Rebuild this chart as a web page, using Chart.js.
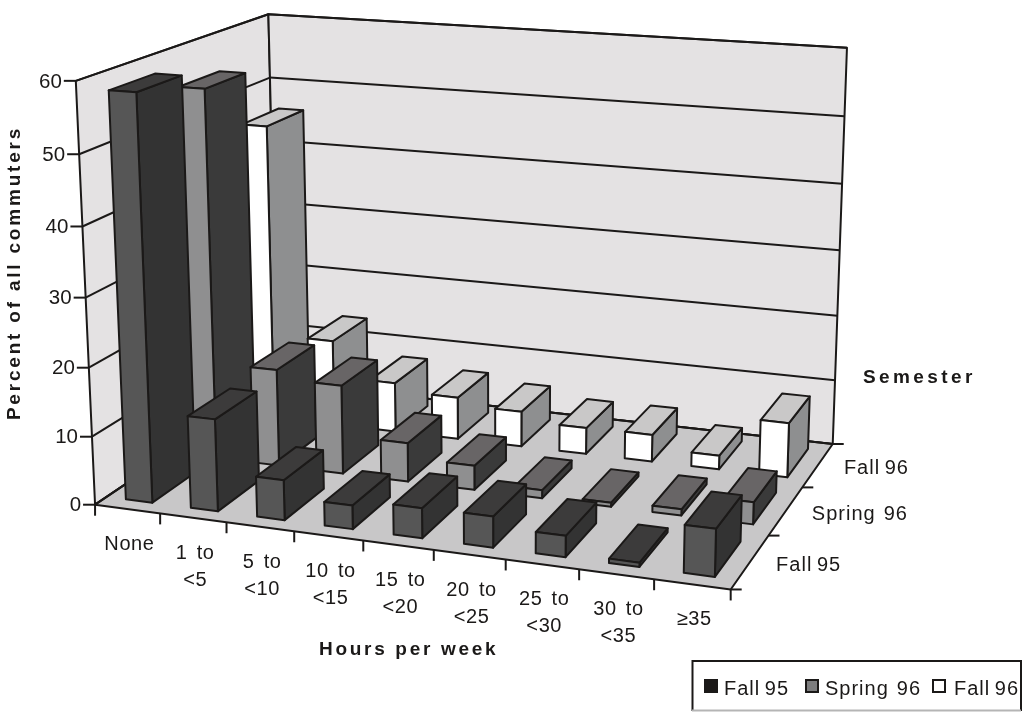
<!DOCTYPE html>
<html>
<head>
<meta charset="utf-8">
<title>Hours per week by semester</title>
<style>
  html, body { margin: 0; padding: 0; background: #fff; }
  #wrap { position: relative; width: 1028px; height: 712px; }
</style>
<script src="https://cdn.jsdelivr.net/npm/chart.js@4/dist/chart.umd.js"></script>
</head>
<body>
<div id="wrap"><canvas id="chart" width="1028" height="712"></canvas></div>
<script>
// Survey values, in percent of all commuters
const hourLabels = ['None', ['1 to', '<5'], ['5 to', '<10'], ['10 to', '<15'], ['15 to', '<20'],
                    ['20 to', '<25'], ['25 to', '<30'], ['30 to', '<35'], '≥35'];
const fall95   = [58.3, 13.4, 5.8, 3.4, 4.3, 4.4, 3, 0.6, 6.6];
const spring96 = [55.2, 14.6, 13.3, 5.8, 3.6, 1.2, 0.6, 0.9, 3.2];
const fall96   = [45.9, 13.3, 7.7, 6.5, 5.4, 4, 4.1, 2.1, 8.2];
const semesters = ['Fall 95', 'Spring 96', 'Fall 96'];

// Face colours per series, drawn front / side / top
const palette = [
  { front: '#565656', side: '#333333', top: '#3c3b3b' },
  { front: '#8f8f90', side: '#3a3a3a', top: '#686566' },
  { front: '#ffffff', side: '#8e8f90', top: '#c9c8c8' }
];
const INK = '#1b1918';
const WALL = '#e4e2e3';
const FLOOR = '#c8c7c8';
const FONT = '"Liberation Sans", Arial, sans-serif';

// Camera anchors: [category, percent, semester, screen x, screen y] of the frame of the box
const cameraAnchors = [
  [0, 0, 0, 95, 505], [1, 0, 0, 160, 514], [4, 0, 0, 363, 540], [8, 0, 0, 654, 579], [9, 0, 0, 731, 589],
  [9, 0, 1, 769, 535], [9, 0, 2, 802, 488], [9, 0, 3, 832, 445],
  [0, 10, 0, 90, 437], [0, 20, 0, 88, 368], [0, 30, 0, 86, 297], [0, 40, 0, 83, 227], [0, 50, 0, 80, 154],
  [0, 60, 0, 77, 81], [0, 60, 3, 268, 14], [0, 50, 3, 268, 78], [9, 60, 3, 847, 47], [9, 50, 3, 845, 117],
  [0, 0, 3, 280, 381], [9, 10, 3, 835, 380]
];

// Least-squares fit of a 3x4 projective camera
function fitCamera(anchors) {
  const n = 11, A = Array.from({ length: n }, () => new Array(n + 1).fill(0));
  const addRow = (row, rhs) => {
    for (let i = 0; i < n; i++) {
      for (let j = 0; j < n; j++) A[i][j] += row[i] * row[j];
      A[i][n] += row[i] * rhs;
    }
  };
  anchors.forEach(([u, v, w, sx, sy]) => {
    const a = u / 9, b = v / 60, c = w / 3, x = sx / 1000, y = sy / 1000;
    addRow([a, b, c, 1, 0, 0, 0, 0, -x * a, -x * b, -x * c], x);
    addRow([0, 0, 0, 0, a, b, c, 1, -y * a, -y * b, -y * c], y);
  });
  for (let i = 0; i < n; i++) {
    let p = i;
    for (let r = i + 1; r < n; r++) if (Math.abs(A[r][i]) > Math.abs(A[p][i])) p = r;
    [A[i], A[p]] = [A[p], A[i]];
    for (let r = 0; r < n; r++) {
      if (r === i) continue;
      const f = A[r][i] / A[i][i];
      for (let k = i; k <= n; k++) A[r][k] -= f * A[i][k];
    }
  }
  return A.map((row, i) => row[n] / row[i]);
}
const cam = fitCamera(cameraAnchors);

// Scale pixels of the flat chart area are turned into the perspective view
function projector(chart) {
  const area = chart.chartArea;
  return (px, py, pd) => {
    const a = (px - area.left) / area.width;
    const b = (area.bottom - py) / area.height;
    const c = (pd - area.left) / area.width;
    const d = cam[8] * a + cam[9] * b + cam[10] * c + 1;
    return [
      1000 * (cam[0] * a + cam[1] * b + cam[2] * c + cam[3]) / d,
      1000 * (cam[4] * a + cam[5] * b + cam[6] * c + cam[7]) / d
    ];
  };
}

function polygon(ctx, pts, fill) {
  ctx.beginPath();
  pts.forEach((p, i) => (i ? ctx.lineTo(p[0], p[1]) : ctx.moveTo(p[0], p[1])));
  ctx.closePath();
  if (fill) { ctx.fillStyle = fill; ctx.fill(); }
  ctx.stroke();
}
function segment(ctx, a, b) {
  ctx.beginPath();
  ctx.moveTo(a[0], a[1]);
  ctx.lineTo(b[0], b[1]);
  ctx.stroke();
}
function label(ctx, text, x, y, font, align, spacing, wordSpacing) {
  ctx.font = font;
  ctx.textAlign = align;
  ctx.textBaseline = 'middle';
  ctx.fillStyle = INK;
  ctx.letterSpacing = (spacing || 0) + 'px';
  ctx.wordSpacing = (wordSpacing || 0) + 'px';
  ctx.fillText(text, x, y);
  ctx.letterSpacing = '0px';
  ctx.wordSpacing = '0px';
}
// "Fall" labels sit tight around the word gap, "Spring" does not
const gapFor = text => (text.startsWith('Fall') ? -2 : 1.5);

// Walls, floor and grid of the box, then the axis ticks
const boxFrame = {
  id: 'boxFrame',
  beforeDatasetsDraw(chart) {
    const { ctx, scales: { x, y, depth }, chartArea: area } = chart;
    const P = projector(chart);
    const xL = area.left, xR = area.right, dF = depth.getPixelForValue(0), dB = depth.getPixelForValue(3);
    const y0 = y.getPixelForValue(0), yT = y.getPixelForValue(60);
    ctx.save();
    ctx.strokeStyle = INK;
    ctx.lineWidth = 2;
    ctx.lineJoin = 'round';
    polygon(ctx, [P(xL, y0, dF), P(xL, yT, dF), P(xL, yT, dB), P(xL, y0, dB)], WALL);
    polygon(ctx, [P(xL, y0, dB), P(xL, yT, dB), P(xR, yT, dB), P(xR, y0, dB)], WALL);
    polygon(ctx, [P(xL, y0, dF), P(xR, y0, dF), P(xR, y0, dB), P(xL, y0, dB)], FLOOR);

    y.ticks.forEach(t => {
      const py = y.getPixelForValue(t.value);
      const a = P(xL, py, dF), b = P(xL, py, dB), c = P(xR, py, dB);
      segment(ctx, a, b);
      segment(ctx, b, c);
      segment(ctx, a, [a[0] - 12, a[1]]);
      label(ctx, String(t.value), a[0] - 14, a[1] + 1, '20.5px ' + FONT, 'right');
    });

    // Category ticks fall on the edges between bands
    const band = area.width / hourLabels.length;
    for (let i = 0; i <= hourLabels.length; i++) {
      const a = P(xL + i * band, y0, dF);
      segment(ctx, a, [a[0], a[1] + 11]);
    }
    hourLabels.forEach((text, i) => {
      const a = P(x.getPixelForValue(i), y0, dF);
      const lines = [].concat(text);
      lines.forEach((line, k) => {
        const ly = a[1] + 35.5 + k * 27;
        label(ctx, line, a[0] + 2, ly, '20px ' + FONT, 'center', 0.6, 3);
      });
    });

    // Semester ticks along the right edge of the floor
    for (let s = 0; s <= semesters.length; s++) {
      const a = P(xR, y0, depth.getPixelForValue(s));
      segment(ctx, a, [a[0] + 11, a[1]]);
    }
    semesters.forEach((text, s) => {
      const a = P(xR, y0, depth.getPixelForValue(s + 0.5));
      label(ctx, text, a[0] + 26, a[1] + 3.5, '20px ' + FONT, 'left', 1, gapFor(text));
    });

    // Axis titles
    label(ctx, 'Hours per week', 319, 650, 'bold 19px ' + FONT, 'left', 2.7);
    label(ctx, 'Semester', 863, 378, 'bold 19px ' + FONT, 'left', 3.4);
    ctx.translate(15, 273);
    ctx.rotate(-Math.PI / 2);
    label(ctx, 'Percent of all commuters', 0, 0, 'bold 19px ' + FONT, 'center', 2.8);
    ctx.restore();
  },
  // Each series is drawn as prisms instead of flat rectangles
  beforeDatasetDraw(chart, args) {
    const { ctx, scales: { depth } } = chart;
    const P = projector(chart);
    const colors = palette[args.index];
    const near = depth.getPixelForValue(args.index + 0.17);
    const far = depth.getPixelForValue(args.index + 0.83);
    ctx.save();
    ctx.strokeStyle = INK;
    ctx.lineWidth = 2;
    ctx.lineJoin = 'round';
    args.meta.data.forEach(bar => {
      const { x, y, base, width } = bar.getProps(['x', 'y', 'base', 'width'], true);
      const x0 = x - width / 2, x1 = x + width / 2;
      polygon(ctx, [P(x1, base, near), P(x1, base, far), P(x1, y, far), P(x1, y, near)], colors.side);
      polygon(ctx, [P(x0, y, near), P(x1, y, near), P(x1, y, far), P(x0, y, far)], colors.top);
      polygon(ctx, [P(x0, base, near), P(x1, base, near), P(x1, y, near), P(x0, y, near)], colors.front);
    });
    ctx.restore();
    return false;
  },
  // Boxed legend under the plot
  afterDatasetsDraw(chart) {
    const { ctx } = chart;
    ctx.save();
    ctx.strokeStyle = INK;
    ctx.lineWidth = 2;
    ctx.beginPath();
    ctx.moveTo(692.5, 711);
    ctx.lineTo(692.5, 661);
    ctx.lineTo(1021, 661);
    ctx.lineTo(1021, 711);
    ctx.stroke();
    ctx.strokeStyle = '#b5b5b5';
    ctx.beginPath();
    ctx.moveTo(692, 710.5);
    ctx.lineTo(1021, 710.5);
    ctx.stroke();
    const keyX = [705, 806, 933], textX = [724, 825, 954], keyFill = ['#1b1918', '#7d7d7e', '#ffffff'];
    chart.data.datasets.forEach((ds, i) => {
      ctx.strokeStyle = INK;
      ctx.lineWidth = 2;
      ctx.fillStyle = keyFill[i];
      ctx.fillRect(keyX[i], 680, 12, 12);
      ctx.strokeRect(keyX[i], 680, 12, 12);
      label(ctx, ds.label, textX[i], 689, '20px ' + FONT, 'left', 1, gapFor(ds.label));
    });
    ctx.restore();
  }
};

new Chart(document.getElementById('chart'), {
  type: 'bar',
  data: {
    labels: hourLabels,
    datasets: [
      { label: semesters[0], data: fall95 },
      { label: semesters[1], data: spring96 },
      { label: semesters[2], data: fall96 }
    ]
  },
  options: {
    responsive: false,
    animation: false,
    grouped: false,
    categoryPercentage: 1,
    barPercentage: 0.41,
    plugins: { legend: { display: false }, tooltip: { enabled: false } },
    layout: { padding: 0 },
    scales: {
      x: { display: false },
      y: { display: false, min: 0, max: 60, ticks: { stepSize: 10 } },
      depth: { type: 'linear', axis: 'x', display: false, min: 0, max: 3, offset: false }
    }
  },
  plugins: [boxFrame]
});
</script>
</body>
</html>
